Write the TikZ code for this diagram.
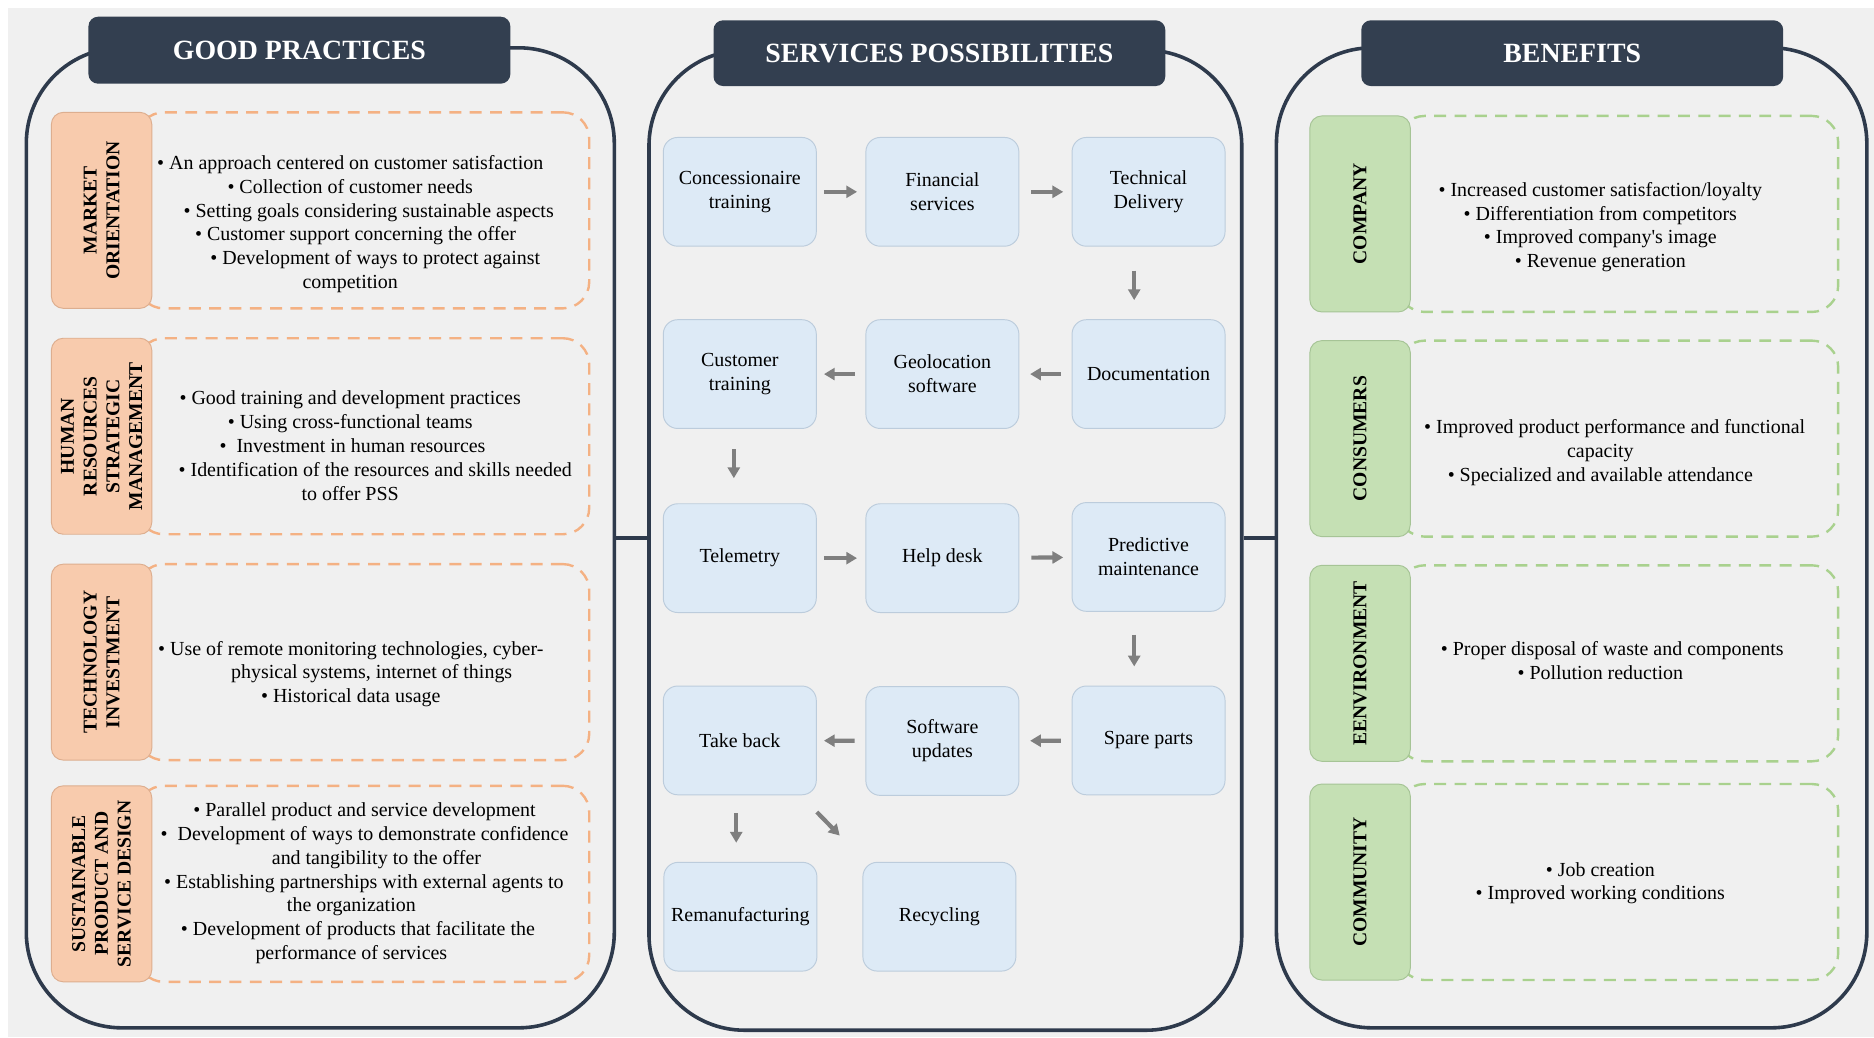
\documentclass[tikz,border=0pt]{standalone}
\usepackage{fontspec}
\setmainfont{Liberation Serif}[Ligatures=TeXOff]
\usetikzlibrary{arrows.meta,calc}

\definecolor{bggray}{HTML}{F0F0F0}
\definecolor{navy}{HTML}{333F50}
\definecolor{panelline}{HTML}{2E3A4C}
\definecolor{orfill}{HTML}{F8CBAD}
\definecolor{orline}{HTML}{DDAE8F}
\definecolor{ordash}{HTML}{F4B183}
\definecolor{grfill}{HTML}{C5E0B4}
\definecolor{grline}{HTML}{A6C496}
\definecolor{grdash}{HTML}{A9D18E}
\definecolor{bluefill}{HTML}{DDEAF6}
\definecolor{blueline}{HTML}{BCCCDC}
\definecolor{arrowgray}{HTML}{7F7F7F}

\newcommand{\bodyfont}{\fontsize{16.7pt}{20pt}\selectfont}

\begin{document}
\begin{tikzpicture}[x=1pt,y=-1pt,
  panelbox/.style={draw=panelline, line width=3pt, rounded corners=80pt, inner sep=0pt},
  header/.style={fill=navy, rounded corners=8pt, text=white, inner sep=0pt,
    font=\fontsize{23.3pt}{28pt}\selectfont\bfseries},
  odash/.style={draw=ordash, line width=2pt, dash pattern=on 10pt off 7pt,
    rounded corners=22pt, minimum height=164pt, inner sep=0pt},
  gdash/.style={draw=grdash, line width=2pt, dash pattern=on 10pt off 7pt,
    rounded corners=22pt, minimum height=164pt, inner sep=0pt},
  tag/.style={rotate=90, minimum width=164pt, minimum height=84pt, inner sep=0pt,
    line width=0.8pt, rounded corners=10pt, align=center,
    font=\fontsize{16.4pt}{19pt}\selectfont\bfseries},
  otag/.style={tag, fill=orfill, draw=orline},
  gtag/.style={tag, fill=grfill, draw=grline},
  btext/.style={align=center, inner sep=0pt, font=\bodyfont},
  sbox/.style={fill=bluefill, draw=blueline, line width=0.8pt, rounded corners=12pt,
    minimum width=128pt, minimum height=91pt, inner sep=2pt, align=center, font=\bodyfont},
  flow/.style={draw=arrowgray, line width=3.5pt, -{Triangle[width=10pt,length=9pt]}},
  link/.style={draw=panelline, line width=3pt}
]
% canvas
\useasboundingbox (0,0) rectangle (1568,868);
\fill[white] (0,0) rectangle (1568,868);
\fill[bggray] (7,7) rectangle (1568,868);

% three panels
\node[panelbox, minimum width=492pt, minimum height=820pt] (pgp) at (268,450) {};
\node[panelbox, minimum width=496pt, minimum height=820pt] (psp) at (791,452) {};
\node[panelbox, minimum width=494pt, minimum height=820pt] (pbn) at (1315,450) {};

\draw[link] (pgp.east) -- (pgp.east -| psp.west);
\draw[link] (psp.east |- pbn.west) -- (pbn.west);

% panel titles
\node[header, minimum width=353pt, minimum height=56pt] (hgp) at (250.5,42) {GOOD PRACTICES};
\node[header, minimum width=378pt, minimum height=55pt] (hsp) at (786,44.5) {SERVICES POSSIBILITIES};
\node[header, minimum width=353pt, minimum height=55pt] (hbn) at (1315.5,44.5) {BENEFITS};

% ---------- good practices ----------
\node[odash, minimum width=378pt] (gd1) at (304,176) {};
\node[odash, minimum width=378pt] (gd2) at (304,365) {};
\node[odash, minimum width=378pt] (gd3) at (304,554) {};
\node[odash, minimum width=378pt] (gd4) at (304,739.5) {};

\node[otag] (gl1) at (85,176) {MARKET\\ORIENTATION};
\node[otag] (gl2) at (85,365) {HUMAN\\RESOURCES\\STRATEGIC\\MANAGEMENT};
\node[otag] (gl3) at (85,554) {TECHNOLOGY\\INVESTMENT};
\node[otag] (gl4) at (85,739.5) {SUSTAINABLE\\PRODUCT AND\\SERVICE DESIGN};

\node[btext] (gt1) at (293,187.5) {• An approach centered on customer satisfaction\\
  • Collection of customer needs\\
  \hspace*{31pt}• Setting goals considering sustainable aspects\\
  \hspace*{9pt}• Customer support concerning the offer\\
  \hspace*{42pt}• Development of ways to protect against\\
  competition};
\node[btext] (gt2) at (293,373) {• Good training and development practices\\
  • Using cross-functional teams\\
  \hspace*{4pt}•\ \ Investment in human resources\\
  \hspace*{42pt}• Identification of the resources and skills needed\\
  to offer PSS};
\node[btext] (gt3) at (293.5,564) {• Use of remote monitoring technologies, cyber-\\
  \hspace*{35pt}physical systems, internet of things\\
  • Historical data usage};
\node[btext] (gt4) at (294,739) {\hspace*{22pt}• Parallel product and service development\\
  \hspace*{22pt}•\ \ Development of ways to demonstrate confidence\\
  \hspace*{42pt}and tangibility to the offer\\
  \hspace*{21pt}• Establishing partnerships with external agents to\\
  the organization\\
  \hspace*{11pt}• Development of products that facilitate the\\
  performance of services};

% ---------- services possibilities ----------
\node[sbox] (conc)  at (619,160.5) {Concessionaire\\training};
\node[sbox] (fin)   at (788.5,160.5) {Financial\\services};
\node[sbox] (tech)  at (961,160.5) {Technical\\Delivery};
\node[sbox] (cust)  at (619,313) {Customer\\training};
\node[sbox] (geo)   at (788.5,313) {Geolocation\\software};
\node[sbox] (doc)   at (961,313) {Documentation};
\node[sbox] (tel)   at (619,467) {Telemetry};
\node[sbox] (help)  at (788.5,467) {Help desk};
\node[sbox] (pred)  at (961,466) {Predictive\\maintenance};
\node[sbox] (take)  at (619,619.5) {Take back};
\node[sbox] (soft)  at (788.5,620) {Software\\updates};
\node[sbox] (spare) at (961,619.5) {Spare parts};
\node[sbox] (reman) at (619.5,767) {Remanufacturing};
\node[sbox] (recyc) at (786,767) {Recycling};

\draw[flow, shorten <=6pt, shorten >=7pt] (conc) -- (fin);
\draw[flow, shorten <=10pt, shorten >=7pt] (fin) -- (tech);
\draw[flow, shorten <=20pt, shorten >=16pt] ([xshift=-12pt]tech.south) -- ([xshift=-12pt]doc.north);
\draw[flow, shorten <=9pt, shorten >=9pt] (doc) -- (geo);
\draw[flow, shorten <=9pt, shorten >=6pt] (geo) -- (cust);
\draw[flow, shorten <=17pt, shorten >=21pt] ([xshift=-5pt]cust.south) -- ([xshift=-5pt]tel.north);
\draw[flow, shorten <=6pt, shorten >=7pt] (tel) -- (help);
\draw[flow, shorten <=10pt, shorten >=7pt] (help) -- (pred);
\draw[flow, shorten <=19pt, shorten >=16pt] ([xshift=-12pt]pred.south) -- ([xshift=-12pt]spare.north);
\draw[flow, shorten <=9pt, shorten >=9pt] (spare) -- (soft);
\draw[flow, shorten <=9pt, shorten >=6pt] (soft) -- (take);
\draw[flow, shorten <=15pt, shorten >=16pt] ([xshift=-3pt]take.south) -- ([xshift=-3.5pt]reman.north);
\draw[flow] ([shift={(0,14)}]take.south east) -- ([shift={(-19,-22)}]recyc.north west);

% ---------- benefits ----------
\node[gdash, minimum width=368pt] (bd1) at (1354,179) {};
\node[gdash, minimum width=368pt] (bd2) at (1354,367) {};
\node[gdash, minimum width=368pt] (bd3) at (1354,555) {};
\node[gdash, minimum width=368pt] (bd4) at (1354,738) {};

\node[gtag] (bl1) at (1138,179) {COMPANY};
\node[gtag] (bl2) at (1138,367) {CONSUMERS};
\node[gtag] (bl3) at (1138,555) {EENVIRONMENT};
\node[gtag] (bl4) at (1138,738) {COMMUNITY};

\node[btext] (bt1) at (1339,190) {• Increased customer satisfaction/loyalty\\
  • Differentiation from competitors\\
  • Improved company's image\\
  • Revenue generation};
\node[btext] (bt2) at (1339,379) {\hspace*{24pt}• Improved product performance and functional\\
  capacity\\
  • Specialized and available attendance};
\node[btext] (bt3) at (1339,553) {\hspace*{20pt}• Proper disposal of waste and components\\
  • Pollution reduction};
\node[btext] (bt4) at (1339,739) {• Job creation\\
  • Improved working conditions};
\end{tikzpicture}
\end{document}
